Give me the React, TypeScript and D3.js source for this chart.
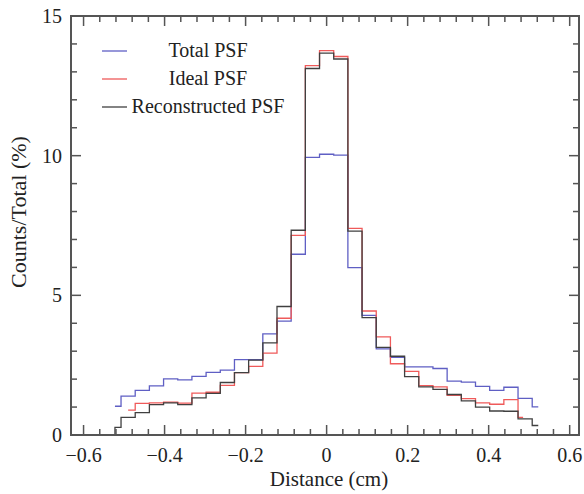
import React from "react";
import * as d3 from "d3";

const binEdges = [-0.5225, -0.5075, -0.4725, -0.4375, -0.4025, -0.3675, -0.3325, -0.2975, -0.2625, -0.2275, -0.1925, -0.1575, -0.1225, -0.0875, -0.0525, -0.0175, 0.0175, 0.0525, 0.0875, 0.1225, 0.1575, 0.1925, 0.2275, 0.2625, 0.2975, 0.3325, 0.3675, 0.4025, 0.4375, 0.4725, 0.5075, 0.5225];

const totalPSF = [1.03, 1.39, 1.6, 1.76, 2.01, 1.97, 2.1, 2.24, 2.32, 2.7, 2.7, 3.62, 4.08, 6.47, 9.94, 10.05, 10.02, 5.99, 4.28, 3.08, 2.78, 2.44, 2.44, 2.38, 1.93, 1.89, 1.74, 1.6, 1.71, 1.31, 1.01];

// Ideal PSF starts inside bin 1 and ends inside bin 29
const idealStart = -0.49;
const idealEnd = 0.485;
const idealPSF = [null, 0.89, 1.13, 1.15, 1.18, 1.14, 1.5, 1.53, 1.78, 2.23, 2.46, 2.93, 4.18, 7.15, 13.22, 13.76, 13.55, 7.4, 4.44, 3.51, 2.55, 2.28, 1.77, 1.72, 1.42, 1.3, 1.15, 1.1, 1.27, 0.63, null];

const reconPSF = [0.27, 0.63, 0.8, 1.09, 1.15, 1.09, 1.33, 1.49, 1.88, 2.23, 2.68, 3.3, 4.6, 7.33, 13.12, 13.67, 13.46, 7.3, 4.2, 3.14, 2.82, 2.09, 1.72, 1.63, 1.45, 1.22, 1.0, 0.86, 0.85, 0.58, 0.34];

const xMajor = [-0.6, -0.4, -0.2, 0, 0.2, 0.4, 0.6];
const xMajorLabels = ["\u22120.6", "\u22120.4", "\u22120.2", "0", "0.2", "0.4", "0.6"];
const yMajor = [0, 5, 10, 15];

const legendItems = [
  { label: "Total PSF", color: "#5f5fc4" },
  { label: "Ideal PSF", color: "#ef5a5a" },
  { label: "Reconstructed PSF", color: "#404040" },
];

const W = 584;
const H = 494;
const FONT = "'Liberation Serif', 'Times New Roman', serif";

function stepPoints(values: (number | null)[], start?: number, end?: number, fromZero = false) {
  const pts: [number, number][] = [];
  let last: number | null = null;
  values.forEach((v, i) => {
    if (v === null) return;
    let x0 = binEdges[i];
    if (start !== undefined && pts.length === 0) x0 = Math.max(x0, start);
    if (pts.length === 0 && fromZero) pts.push([x0, 0]);
    pts.push([x0, v]);
    last = i;
  });
  if (last !== null) {
    let xe = binEdges[(last as number) + 1];
    if (end !== undefined) xe = Math.min(xe, end);
    pts.push([xe, values[last as number] as number]);
  }
  return pts;
}

export default function App() {
  const left = 71, right = 579, top = 16, bottom = 435;
  const x = d3.scaleLinear().domain([-0.631, 0.623]).range([left, right]);
  const y = d3.scaleLinear().domain([0, 15]).range([bottom, top]);

  const line = d3
    .line<[number, number]>()
    .x((d) => x(d[0]))
    .y((d) => y(d[1]))
    .curve(d3.curveStepAfter);

  const xMinor = d3.range(-15, 16).map((k) => k * 0.04).filter((v) => Math.abs(Math.round(v * 5) - v * 5) > 1e-6);
  const yMinor = d3.range(0, 16).filter((v) => v % 5 !== 0);

  const axisColor = "#555";
  const majLen = 10, minLen = 6;

  return (
    <svg width={W} height={H} style={{ position: "absolute", left: 0, top: 0, background: "#fff" }}>
      {/* data */}
      <path d={line(stepPoints(totalPSF)) || ""} fill="none" stroke={legendItems[0].color} strokeWidth={1.3} />
      <path d={line(stepPoints(idealPSF, idealStart, idealEnd)) || ""} fill="none" stroke={legendItems[1].color} strokeWidth={1.3} />
      <path d={line(stepPoints(reconPSF, undefined, undefined, true)) || ""} fill="none" stroke={legendItems[2].color} strokeWidth={1.3} />

      {/* frame */}
      <rect x={left} y={top} width={right - left} height={bottom - top} fill="none" stroke={axisColor} strokeWidth={2} />

      {/* x ticks */}
      {xMajor.map((v) => (
        <g key={"xM" + v}>
          <line x1={x(v)} x2={x(v)} y1={bottom} y2={bottom - majLen} stroke={axisColor} strokeWidth={1.5} />
          <line x1={x(v)} x2={x(v)} y1={top} y2={top + majLen} stroke={axisColor} strokeWidth={1.5} />
        </g>
      ))}
      {xMinor.map((v) => (
        <g key={"xm" + v}>
          <line x1={x(v)} x2={x(v)} y1={bottom} y2={bottom - minLen} stroke={axisColor} strokeWidth={1.5} />
          <line x1={x(v)} x2={x(v)} y1={top} y2={top + minLen} stroke={axisColor} strokeWidth={1.5} />
        </g>
      ))}
      {/* y ticks */}
      {yMajor.map((v) => (
        <g key={"yM" + v}>
          <line x1={left} x2={left + majLen} y1={y(v)} y2={y(v)} stroke={axisColor} strokeWidth={1.5} />
          <line x1={right} x2={right - majLen} y1={y(v)} y2={y(v)} stroke={axisColor} strokeWidth={1.5} />
        </g>
      ))}
      {yMinor.map((v) => (
        <g key={"ym" + v}>
          <line x1={left} x2={left + minLen} y1={y(v)} y2={y(v)} stroke={axisColor} strokeWidth={1.5} />
          <line x1={right} x2={right - minLen} y1={y(v)} y2={y(v)} stroke={axisColor} strokeWidth={1.5} />
        </g>
      ))}

      {/* tick labels */}
      {xMajor.map((v, i) => (
        <text key={"xl" + v} x={x(v)} y={462} textAnchor="middle" fontFamily={FONT} fontSize={20} fill="#222">
          {xMajorLabels[i]}
        </text>
      ))}
      {yMajor.map((v) => (
        <text key={"yl" + v} x={62} y={y(v) + 7} textAnchor="end" fontFamily={FONT} fontSize={20} fill="#222">
          {v}
        </text>
      ))}

      {/* axis titles */}
      <text x={329} y={486} textAnchor="middle" fontFamily={FONT} fontSize={21} fill="#222">
        Distance (cm)
      </text>
      <text transform={`translate(26, ${212}) rotate(-90)`} textAnchor="middle" fontFamily={FONT} fontSize={22} fill="#222">
        Counts/Total (%)
      </text>

      {/* legend */}
      {legendItems.map((it, i) => (
        <g key={it.label}>
          <line x1={102} x2={127} y1={51 + i * 28} y2={51 + i * 28} stroke={it.color} strokeWidth={1.3} />
          <text x={208} y={57 + i * 28} textAnchor="middle" fontFamily={FONT} fontSize={20} fill="#222">
            {it.label}
          </text>
        </g>
      ))}
    </svg>
  );
}
